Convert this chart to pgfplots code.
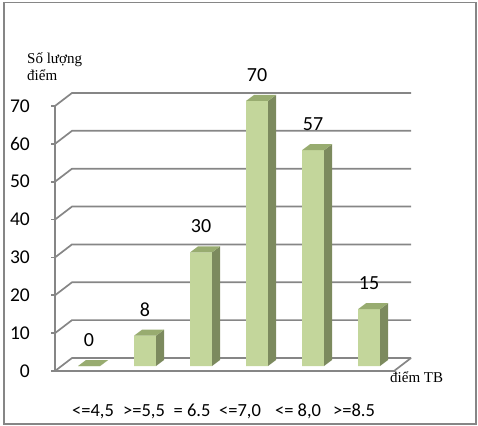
\documentclass[border=0pt]{standalone}
\usepackage{fontspec}
\setmainfont{Liberation Serif}
\newfontfamily\carlito{Carlito}
\usepackage{pgfplots}
\usepackage{pgfplotstable}
\pgfplotsset{compat=1.18}
\definecolor{gridc}{RGB}{134,134,134}
\definecolor{barfront}{RGB}{195,214,155}
\definecolor{barside}{RGB}{124,138,94}
\definecolor{bartop}{RGB}{152,172,112}
\pgfdeclareplotmark{bar3d}{%
  \pgfmathsetlengthmacro\bbot{5-\ry*3.786}%
  \pgfmathsetlengthmacro\bbak{11-\ry*3.786}%
  \pgfsetfillcolor{barside}%
  \pgfpathmoveto{\pgfqpoint{17.8pt}{5pt}}%
  \pgfpathlineto{\pgfqpoint{25.8pt}{11pt}}%
  \pgfpathlineto{\pgfqpoint{25.8pt}{\bbak}}%
  \pgfpathlineto{\pgfqpoint{17.8pt}{\bbot}}%
  \pgfpathclose
  \pgfusepathqfill
  \pgfsetfillcolor{bartop}%
  \pgfpathmoveto{\pgfqpoint{-4.2pt}{5pt}}%
  \pgfpathlineto{\pgfqpoint{17.8pt}{5pt}}%
  \pgfpathlineto{\pgfqpoint{25.8pt}{11pt}}%
  \pgfpathlineto{\pgfqpoint{3.8pt}{11pt}}%
  \pgfpathclose
  \pgfusepathqfill
}
\pgfplotstableread{
x y
0 0
1 8
2 30
3 70
4 57
5 15
}\scores
\begin{document}
\begin{tikzpicture}
\path[use as bounding box] (0pt,0pt) rectangle (478pt,425pt);
\draw[gridc, line width=1.6pt] (4pt,1pt) rectangle (476pt,422.5pt);
\begin{axis}[
  at={(55pt,54pt)}, anchor=south west,
  x=56pt, y=3.786pt,
  xmin=-0.486, xmax=5.568, ymin=0, ymax=70,
  clip=false,
  axis lines*=left,
  axis line style={gridc, line width=1.7pt},
  tick align=outside,
  major tick length=4pt,
  ytick={0,10,...,70},
  ytick style={gridc, line width=1.7pt},
  xtick={0.193,1.104,1.961,2.818,3.854,4.854},
  xticklabels={{<=4,5},{>=5,5},{= 6.5},{<=7,0},{<= 8,0},{>=8.5}},
  xtick style={draw=none},
  /pgf/number format/assume math mode=true,
  yticklabel style={font=\carlito\fontsize{19.5}{22}\selectfont, anchor=east, inner sep=0pt, xshift=-21pt},
  xticklabel style={font=\carlito\fontsize{18.5}{21}\selectfont, anchor=base, inner sep=0pt, yshift=-41pt},
  ylabel={Số lượng\\điểm},
  ylabel style={rotate=-90, at={(axis cs:-0.486,70)}, anchor=north west, align=left, inner sep=0pt,
    font=\fontsize{15}{17}\selectfont, xshift=-28pt, yshift=54pt},
  xlabel={điểm TB},
  xlabel style={at={(axis cs:5.568,0)}, anchor=base west, inner sep=0pt,
    font=\fontsize{15}{17}\selectfont, xshift=-4pt, yshift=-11pt},
]
\pgfplotsinvokeforeach{0,10,...,70}{
  \draw[gridc, line width=1.7pt] (axis cs:-0.486,#1) -- ++(17pt,13pt) -- ++(339pt,0pt);
}
\draw[gridc, line width=1.7pt] (axis cs:5.568,0) -- ++(17pt,13pt);
\addplot[ybar, bar width=22pt, bar shift=6.8pt, yshift=5pt, fill=barfront, draw=none] table[x=x, y=y] {\scores};
\addplot[only marks, mark=bar3d, visualization depends on={rawy \as \ry},
  nodes near coords={\pgfmathprintnumber{\pgfplotspointmeta}},
  every node near coord/.append style={font=\carlito\fontsize{20}{22}\selectfont, text=black, inner sep=0pt, anchor=base, xshift=6.8pt, yshift=24.5pt}]
  table[x=x, y=y] {\scores};
\end{axis}
\end{tikzpicture}
\end{document}
